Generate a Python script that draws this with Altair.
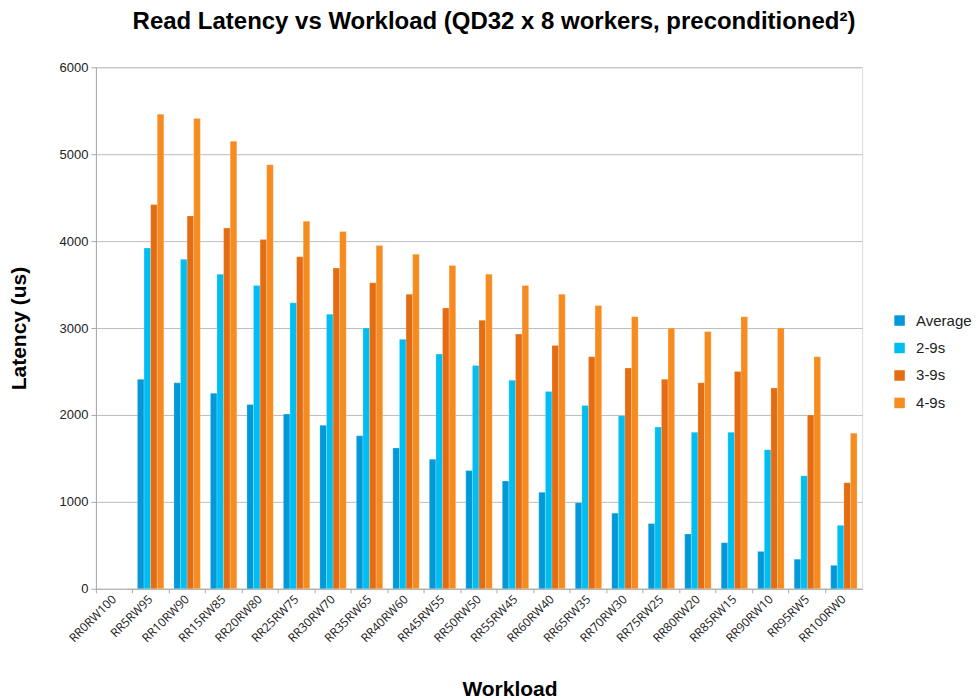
import altair as alt
import pandas as pd

workloads = ["RR0RW100", "RR5RW95", "RR10RW90", "RR15RW85", "RR20RW80", "RR25RW75",
             "RR30RW70", "RR35RW65", "RR40RW60", "RR45RW55", "RR50RW50", "RR55RW45",
             "RR60RW40", "RR65RW35", "RR70RW30", "RR75RW25", "RR80RW20", "RR85RW15",
             "RR90RW10", "RR95RW5", "RR100RW0"]
series = ["Average", "2-9s", "3-9s", "4-9s"]
average = [0, 2410, 2370, 2250, 2120, 2010, 1880, 1760, 1620, 1490, 1360, 1240,
           1110, 990, 870, 750, 630, 530, 430, 340, 270]
p2_9s = [0, 3920, 3790, 3620, 3490, 3290, 3160, 3000, 2870, 2700, 2570, 2400,
         2270, 2110, 1990, 1860, 1800, 1800, 1600, 1300, 730]
p3_9s = [0, 4420, 4290, 4150, 4020, 3820, 3690, 3520, 3390, 3230, 3090, 2930,
         2800, 2670, 2540, 2410, 2370, 2500, 2310, 2000, 1220]
p4_9s = [0, 5460, 5410, 5150, 4880, 4230, 4110, 3950, 3850, 3720, 3620, 3490,
         3390, 3260, 3130, 3000, 2960, 3130, 3000, 2670, 1790]
colors = ["#0399D8", "#00BEF2", "#E46C12", "#F68B20"]
y_ticks = [0, 1000, 2000, 3000, 4000, 5000, 6000]

rows = []
for name, vals in zip(series, [average, p2_9s, p3_9s, p4_9s]):
    for w, v in zip(workloads, vals):
        rows.append({"Workload": w, "Series": name, "Latency": v})
df = pd.DataFrame(rows)

bars = alt.Chart(df).mark_bar(
    stroke="white", strokeOpacity=0.35, strokeWidth=0.6
).encode(
    x=alt.X("Workload:N", sort=workloads,
            scale=alt.Scale(paddingInner=0, paddingOuter=0),
            axis=alt.Axis(
                title="Workload", labelAngle=-45, labelAlign="right", labelBaseline="middle",
                bandPosition=0, labelOffset=0, labelPadding=4,
                labelFont="Open Sans", labelFontSize=12, labelColor="#222",
                tickColor="#aaa", tickSize=4, domainColor="#aaa",
                titleFont="Liberation Sans", titleFontSize=21, titleFontWeight="bold",
                titleColor="#000", titleX=414, titleY=101, titleAlign="center",
                titleBaseline="middle", grid=False)),
    xOffset=alt.XOffset("Series:N", sort=series,
                        scale=alt.Scale(paddingInner=0, paddingOuter=0.765)),
    y=alt.Y("Latency:Q", scale=alt.Scale(domain=[0, 6000], nice=False),
            axis=alt.Axis(
                title="Latency (us)", values=y_ticks, format="d",
                labelFont="Liberation Sans", labelFontSize=13, labelColor="#222",
                labelPadding=3, tickColor="#aaa", tickSize=5, domainColor="#aaa",
                gridColor="#bdbdbd", gridWidth=1,
                titleFont="Liberation Sans", titleFontSize=21, titleFontWeight="bold",
                titleColor="#000", titleX=-76, titleY=261, titleAlign="center",
                titleBaseline="middle", titleAngle=-90)),
    color=alt.Color("Series:N", sort=series,
                    scale=alt.Scale(domain=series, range=colors),
                    legend=alt.Legend(
                        title=None, orient="none", legendX=797, legendY=246,
                        symbolType="square", symbolSize=110, symbolStrokeWidth=0,
                        labelFont="Liberation Sans", labelFontSize=15, labelColor="#222",
                        rowPadding=11.5, labelOffset=9)),
)

chart = bars.properties(
    width=767, height=522,
    title=alt.TitleParams(
        "Read Latency vs Workload (QD32 x 8 workers, preconditioned²)",
        font="Liberation Sans", fontSize=24, fontWeight="bold", color="#000",
        anchor="middle", dx=15, offset=27),
    autosize=alt.AutoSizeParams(type="none"),
    padding={"left": 88, "top": 59, "right": 110, "bottom": 120},
).configure_view(stroke=None).configure(background="white")

chart.save("out.html", embed_options={"renderer": "svg", "actions": False})
